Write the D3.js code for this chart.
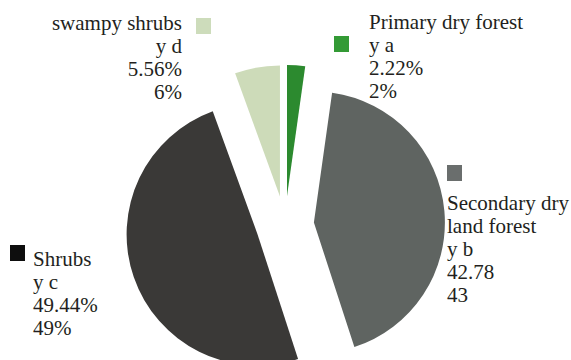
<!DOCTYPE html>
<html>
<head>
<meta charset="utf-8">
<script src="https://cdn.jsdelivr.net/npm/d3@7"></script>
<style>
  html, body { margin: 0; padding: 0; background: #fff; }
  svg { display: block; font-family: "Liberation Serif", "Times New Roman", Tinos, serif; }
</style>
</head>
<body>
<svg id="chart" width="571" height="360"></svg>
<script>
// Land cover shares (percent)
const categories = ["Primary dry forest", "Secondary dry land forest", "Shrubs", "swampy shrubs"];
const codes = ["y a", "y b", "y c", "y d"];
const values = [2.22, 42.78, 49.44, 5.56];
const roundedLabels = ["2%", "43", "49%", "6%"];
const valueLabels = ["2.22%", "42.78", "49.44%", "5.56%"];
const sliceColors = ["#2c8a2f", "#5f6461", "#3a3937", "#cddbb9"];
const keyColors = ["#339a35", "#6a6e6d", "#0e0e0e", "#cddcbb"];

const svg = d3.select("#chart");
const cx = 285, cy = 225, radius = 131, explode = 29;

const data = categories.map((c, i) => ({ name: c, code: codes[i], value: values[i], i }));
const pie = d3.pie().sort(null).value(d => d.value).startAngle(0).endAngle(2 * Math.PI);
const arc = d3.arc().innerRadius(0).outerRadius(radius);

// Exploded slices, each pushed out along its bisector
const slices = svg.append("g").attr("transform", `translate(${cx},${cy})`);
slices.selectAll("path")
  .data(pie(data))
  .join("path")
  .attr("d", arc)
  .attr("fill", d => sliceColors[d.data.i])
  .attr("transform", d => {
    const mid = (d.startAngle + d.endAngle) / 2;
    return `translate(${explode * Math.sin(mid)},${-explode * Math.cos(mid)})`;
  });

// Callout labels with a colour key beside each
const labelSpecs = [
  { x: 369, y: 29, anchor: "start", key: [334, 36], lines: ["Primary dry forest", codes[0], valueLabels[0], roundedLabels[0]] },
  { x: 447, y: 210, anchor: "start", key: [447, 165], lines: ["Secondary dry", "land forest", codes[1], valueLabels[1], roundedLabels[1]] },
  { x: 33, y: 266, anchor: "start", key: [10, 245], lines: [categories[2], codes[2], valueLabels[2], roundedLabels[2]] },
  { x: 182, y: 30, anchor: "end", key: [196, 18], lines: [categories[3], codes[3], valueLabels[3], roundedLabels[3]] }
];
const lineGap = 23;

const labels = svg.append("g");
labelSpecs.forEach((s, i) => {
  labels.append("rect")
    .attr("x", s.key[0]).attr("y", s.key[1])
    .attr("width", 15).attr("height", 16)
    .attr("fill", keyColors[i]);
  s.lines.forEach((ln, k) => {
    labels.append("text")
      .attr("x", s.x).attr("y", s.y + k * lineGap)
      .attr("text-anchor", s.anchor)
      .attr("font-family", "Liberation Serif, Times New Roman, serif")
      .attr("font-size", 21)
      .attr("fill", "#231f20")
      .text(ln);
  });
});
</script>
</body>
</html>
